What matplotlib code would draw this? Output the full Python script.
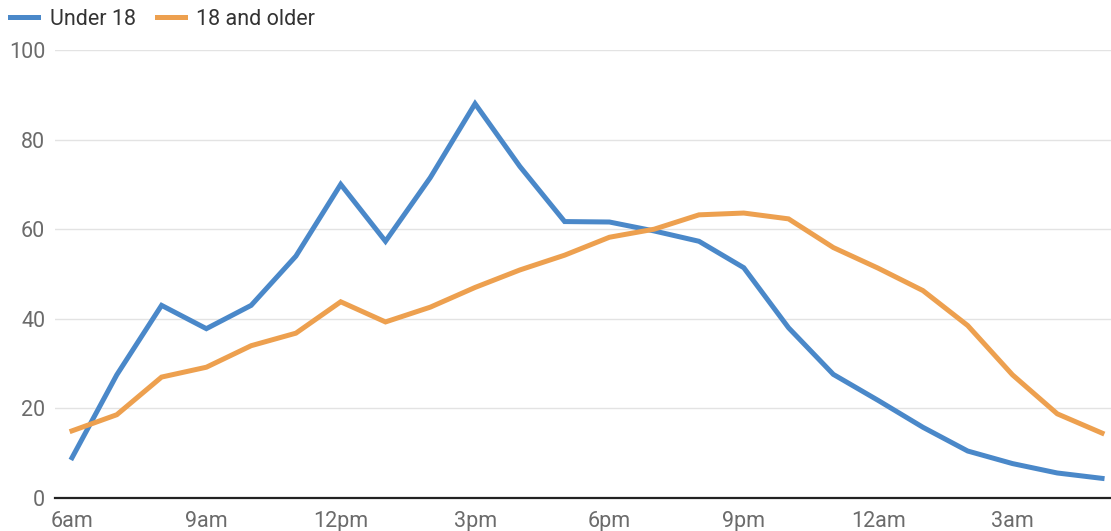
import matplotlib.pyplot as plt

plt.rcParams['font.family'] = ['Roboto', 'DejaVu Sans']

# hourly values, 6am through 5am
hours = list(range(24))
under_18 = [9, 27.5, 43, 37.8, 43, 54, 70, 57.3, 71.5, 88, 74, 61.7,
            61.6, 59.6, 57.3, 51.4, 38, 27.6, 21.8, 15.8, 10.5, 7.7, 5.6, 4.4]
adults = [15, 18.6, 27, 29.2, 34, 36.8, 43.8, 39.3, 42.6, 47, 50.9, 54.2,
          58.2, 60, 63.2, 63.6, 62.3, 55.9, 51.3, 46.3, 38.5, 27.5, 18.8, 14.5]
tick_hours = [0, 3, 6, 9, 12, 15, 18, 21]
tick_labels = ['6am', '9am', '12pm', '3pm', '6pm', '9pm', '12am', '3am']

fig = plt.figure(figsize=(11.11, 5.31), dpi=100)
ax = fig.add_axes([0.0495, 0.062, 0.9505, 0.844])

ax.plot(hours, under_18, color='#4a88c9', lw=3.6, label='Under 18',
        solid_joinstyle='miter', zorder=3)
ax.plot(hours, adults, color='#eda04f', lw=3.6, label='18 and older',
        solid_joinstyle='miter', zorder=3)

ax.set_xlim(-0.38, 23.2)
ax.set_ylim(0, 100)
ax.set_yticks([0, 20, 40, 60, 80, 100])
ax.set_xticks(tick_hours)
ax.set_xticklabels(tick_labels)
ax.grid(axis='y', color='#e3e3e3', lw=1)
ax.set_axisbelow(True)

for s in ['top', 'right', 'left']:
    ax.spines[s].set_visible(False)
ax.spines['bottom'].set_color('#222222')
ax.spines['bottom'].set_linewidth(1.6)
ax.spines['bottom'].set_zorder(4)

ax.tick_params(axis='both', length=0, labelsize=15.5, colors='#6b6b6b')
ax.tick_params(axis='x', pad=9)
ax.tick_params(axis='y', pad=7)

fig.legend(loc='upper left', bbox_to_anchor=(-0.0085, 1.02), ncol=2,
           frameon=False, fontsize=15.5, handlelength=1.3,
           handletextpad=0.55, columnspacing=0.97, labelcolor='#333333')

fig.savefig('out.png', dpi=100, facecolor='white')
